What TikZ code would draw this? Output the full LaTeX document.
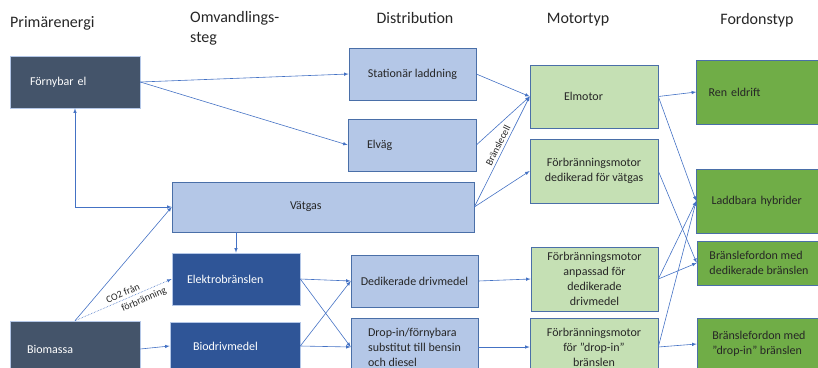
\documentclass[tikz,border=0pt]{standalone}
\usepackage{fontspec}
\setmainfont{Carlito}
\usetikzlibrary{arrows,calc}
\definecolor{slate}{HTML}{44546A}
\definecolor{deepblue}{HTML}{2F5597}
\definecolor{paleblue}{HTML}{B4C7E7}
\definecolor{linkblue}{HTML}{4472C4}
\definecolor{rimblue}{HTML}{4A6FA8}
\definecolor{palegreen}{HTML}{C5E0B4}
\definecolor{leafgreen}{HTML}{70AD47}
\definecolor{ink}{HTML}{262626}
\tikzset{
  head/.style={font=\fontsize{16}{20}\selectfont, text=ink, inner sep=0pt},
  box/.style={line width=0.6pt, font=\fontsize{12}{15}\selectfont, inner ysep=0pt},
  primbox/.style={box, fill=slate, draw=paleblue, text=white, align=left},
  fuelbox/.style={box, fill=deepblue, draw=paleblue, text=white, align=left},
  distbox/.style={box, fill=paleblue, draw=rimblue, text=ink},
  motorbox/.style={box, fill=palegreen, draw=rimblue, text=ink, align=center},
  carbox/.style={box, fill=leafgreen, draw=rimblue, text=ink, align=left},
  conn/.style={color=linkblue, line width=0.6pt},
  lab/.style={font=\fontsize{10}{11}\selectfont, text=ink, inner sep=1pt}
}
\begin{document}
\begin{tikzpicture}[x=1pt,y=-1pt,>=latex]
\useasboundingbox (0,0) rectangle (818,367);

\node[head, anchor=west] (h1) at (10,23) {Primärenergi};
\node[head, anchor=west, align=left] (h2) at (190,28) {Omvandlings-\\steg};
\node[head] (h3) at (415,18) {Distribution};
\node[head] (h4) at (578,20) {Motortyp};
\node[head] (h5) at (757,20) {Fordonstyp};

\node[primbox, minimum height=52pt, inner xsep=20pt, text width=90pt] (forn) at (75,82) {Förnybar el};
\node[primbox, minimum height=56pt, inner xsep=17pt, text width=96pt] (biom) at (75,349) {Biomassa};

\node[fuelbox, minimum height=52pt, inner xsep=15pt, text width=98pt] (elektro) at (236,279) {Elektrobränslen};
\node[fuelbox, minimum height=48pt, inner xsep=23pt, text width=84pt] (bio) at (235,346) {Biodrivmedel};

\node[distbox, minimum width=127pt, minimum height=52pt] (stat) at (412.5,74) {Stationär laddning};
\node[distbox, minimum height=52pt, inner xsep=19pt, text width=90pt, align=left] (elvag) at (412,145) {Elväg};
\node[distbox, minimum height=50pt, inner xsep=118pt, text width=66pt, align=left] (vatgas) at (323,207) {Vätgas};
\node[distbox, minimum width=127pt, minimum height=52pt] (dedik) at (414.5,281) {Dedikerade drivmedel};
\node[distbox, minimum width=127pt, minimum height=58pt, align=left] (dropin) at (414.5,347) {Drop-in/förnybara\\substitut till bensin\\och diesel};

\node[motorbox, minimum height=63pt, inner xsep=34pt, text width=60pt, align=left] (elmotor) at (594,96.5) {Elmotor};
\node[motorbox, minimum width=128pt, minimum height=64pt] (fmvat) at (594,171) {Förbränningsmotor\\dedikerad för vätgas};
\node[motorbox, minimum width=127pt, minimum height=64pt] (fmanp) at (594.5,279) {Förbränningsmotor\\anpassad för\\dedikerade\\drivmedel};
\node[motorbox, minimum width=128pt, minimum height=58pt] (fmdrop) at (594,347) {Förbränningsmotor\\för ”drop-in”\\bränslen};

\node[carbox, minimum height=64pt, inner xsep=12pt, text width=101pt] (ren) at (759,92) {Ren eldrift};
\node[carbox, minimum height=64pt, inner xsep=15pt, text width=95pt] (ladd) at (759,201) {Laddbara hybrider};
\node[carbox, minimum width=124pt, minimum height=44pt] (bfded) at (759,263) {Bränslefordon med\\dedikerade bränslen};
\node[carbox, minimum width=124pt, minimum height=52pt] (bfdrop) at (759,344) {Bränslefordon med\\”drop-in” bränslen};

\path[->, conn] (forn.east) edge (stat.west) edge (elvag.west);
\draw[<->, conn] (vatgas.west) -| (forn.south);
\path[->, conn] (biom.north) edge (vatgas.west)
           (biom.east) edge (bio.west);
\draw[->, conn, densely dotted] (biom.north) -- (elektro.west)
   node[pos=.52, sloped, above=1.5pt, lab]{CO2 från}
   node[pos=.68, sloped, below=2.5pt, lab]{förbränning};
\draw[->, conn] (elektro.north |- vatgas.south) -- (elektro.north);
\path[->, conn] (elektro.east) edge (dedik.west) edge (dropin.west)
           (bio.east) edge (dropin.west) edge (dedik.west);
\path[->, conn] (stat.east) edge (elmotor.west)
           (elvag.east) edge (elmotor.west)
           (vatgas.east) edge node[pos=.53, sloped, above=1.5pt, lab]{Bränslecell} (elmotor.west)
           (vatgas.east) edge (fmvat.west);
\path[->, conn] (dedik.east) edge (fmanp.west)
           (dropin.east) edge (fmdrop.west);
\path[->, conn] (elmotor.east) edge (ren.west) edge (ladd.west)
           (fmvat.east) edge (bfded.west)
           (fmanp.east) edge (ladd.west) edge (bfded.west)
           (fmdrop.east) edge (ladd.west) edge (bfdrop.west);
\end{tikzpicture}
\end{document}
